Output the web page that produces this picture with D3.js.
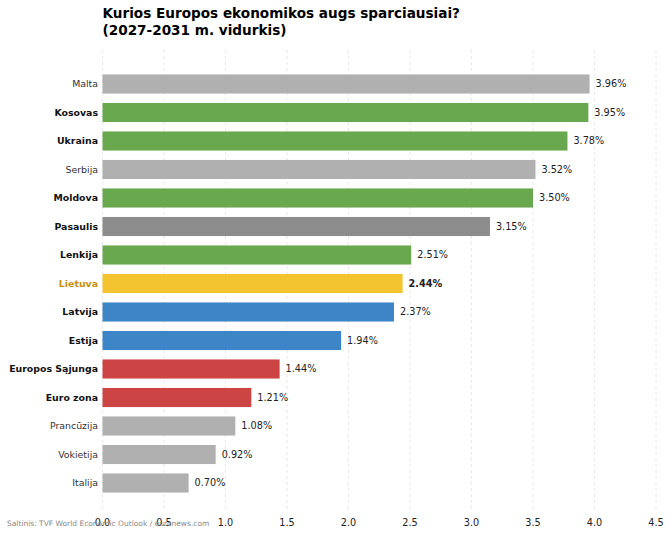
<!DOCTYPE html>
<html>
<head>
<meta charset="utf-8">
<script src="https://cdn.jsdelivr.net/npm/d3@7"></script>
<style>
  body { margin: 0; background: #fff; }
  text { font-family: "DejaVu Sans", sans-serif; }
</style>
</head>
<body>
<script>
const countries = ["Malta", "Kosovas", "Ukraina", "Serbija", "Moldova", "Pasaulis", "Lenkija", "Lietuva", "Latvija", "Estija", "Europos Sąjunga", "Euro zona", "Prancūzija", "Vokietija", "Italija"];
const growth = [3.96, 3.95, 3.78, 3.52, 3.50, 3.15, 2.51, 2.44, 2.37, 1.94, 1.44, 1.21, 1.08, 0.92, 0.70];
const groups = ["other", "candidate", "candidate", "other", "candidate", "world", "candidate", "lt", "baltic", "baltic", "eu", "eu", "other", "other", "other"];
const boldLabels = ["Kosovas", "Ukraina", "Moldova", "Pasaulis", "Lenkija", "Lietuva", "Latvija", "Estija", "Europos Sąjunga", "Euro zona"];
const xTicks = [0, 0.5, 1, 1.5, 2, 2.5, 3, 3.5, 4, 4.5];

const groupColor = {
  other: "#b0b0b0",
  candidate: "#6aa84f",
  world: "#8c8c8c",
  lt: "#f4c430",
  baltic: "#3d85c6",
  eu: "#cc4444"
};

const w = 670;
const h = 533;
const left = 102.5;
const right = 656;

const svg = d3.select("body")
  .append("svg")
  .attr("width", w)
  .attr("height", h);

const xScale = d3.scaleLinear()
  .domain([0, 4.5])
  .range([left, right]);

const yScale = d3.scaleBand()
  .domain(countries)
  .range([69.75, 497.25])
  .paddingInner(0.33)
  .paddingOuter(0.165);

// grid lines
svg.selectAll(".grid")
  .data(xTicks)
  .enter()
  .append("line")
  .attr("x1", d => xScale(d))
  .attr("x2", d => xScale(d))
  .attr("y1", 50)
  .attr("y2", 512)
  .attr("stroke", "#e2e2e2")
  .attr("stroke-width", 0.8)
  .attr("stroke-dasharray", "3,3");

// bars
svg.selectAll(".bar")
  .data(countries)
  .enter()
  .append("rect")
  .attr("x", xScale(0))
  .attr("y", d => yScale(d))
  .attr("width", (d, i) => xScale(growth[i]) - xScale(0))
  .attr("height", yScale.bandwidth())
  .attr("fill", (d, i) => groupColor[groups[i]]);

// value labels
svg.selectAll(".val")
  .data(countries)
  .enter()
  .append("text")
  .attr("x", (d, i) => xScale(growth[i]) + 6)
  .attr("y", d => yScale(d) + yScale.bandwidth() / 2)
  .attr("dy", "0.35em")
  .attr("font-size", "9.7px")
  .attr("font-weight", d => d === "Lietuva" ? "bold" : "normal")
  .attr("fill", "#222")
  .text((d, i) => growth[i].toFixed(2) + "%");

// category labels
svg.selectAll(".yLabel")
  .data(countries)
  .enter()
  .append("text")
  .attr("x", left - 4.5)
  .attr("y", d => yScale(d) + yScale.bandwidth() / 2)
  .attr("dy", "0.35em")
  .attr("text-anchor", "end")
  .attr("font-size", "9.4px")
  .attr("font-weight", d => boldLabels.includes(d) ? "bold" : "normal")
  .attr("fill", d => d === "Lietuva" ? "#c8900a" : (boldLabels.includes(d) ? "#111" : "#333"))
  .text(d => d);

// x axis tick labels
svg.selectAll(".xLabel")
  .data(xTicks)
  .enter()
  .append("text")
  .attr("x", d => xScale(d))
  .attr("y", 526)
  .attr("text-anchor", "middle")
  .attr("font-size", "9.7px")
  .attr("fill", "#222")
  .text(d => d.toFixed(1));

// source
svg.append("text")
  .attr("x", 7)
  .attr("y", 526)
  .attr("font-size", "7.5px")
  .attr("fill", "#888")
  .text("Saltinis: TVF World Economic Outlook / euronews.com");

// title
const title = svg.append("text")
  .attr("x", left)
  .attr("font-size", "13.6px")
  .attr("font-weight", "bold")
  .attr("fill", "#000");
title.append("tspan").attr("x", left).attr("y", 18).text("Kurios Europos ekonomikos augs sparciausiai?");
title.append("tspan").attr("x", left).attr("y", 35).text("(2027-2031 m. vidurkis)");
</script>
</body>
</html>
